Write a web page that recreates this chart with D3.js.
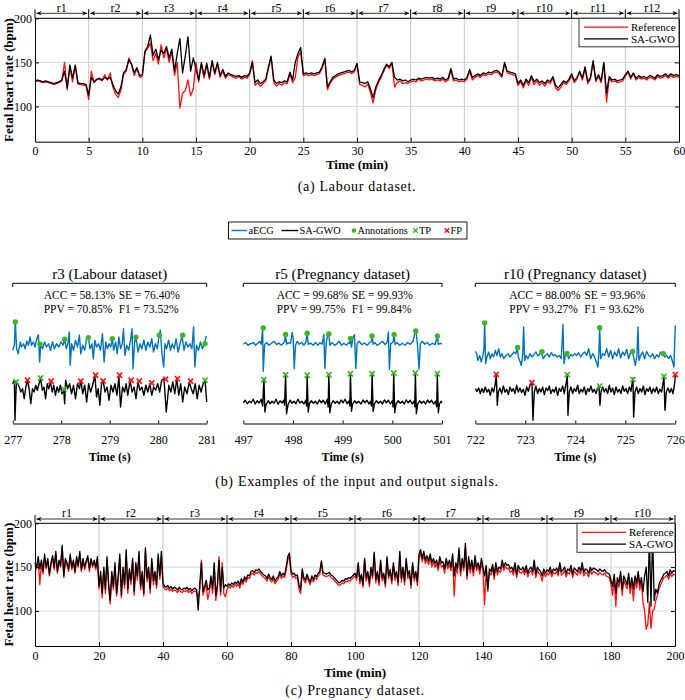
<!DOCTYPE html>
<html><head><meta charset="utf-8">
<script src="https://cdn.jsdelivr.net/npm/d3@7"></script>
<style>body{margin:0;background:#fff}</style>
</head><body>
<script>
// ===================== DATA =====================
// (a) Labour dataset: fetal heart rate (bpm), sampled every 0.25 min, 0..60 min
const labourStep = 0.25;
const labourRef = [
128,129,128,127,128,127,126,125,126,127,129,150,119,145,128,146,125,125,124,124,
108,140,127,130,131,129,136,130,138,122,114,110,118,136,140,155,147,135,143,133,
134,162,166,172,152,160,148,170,155,165,150,162,135,150,98,115,118,130,112,120,
150,128,148,132,147,131,150,136,148,133,140,132,136,135,133,132,134,131,133,132,
136,152,124,127,123,126,129,143,155,127,123,126,124,127,126,137,127,133,156,162,
135,136,135,136,135,136,137,143,155,119,126,131,133,135,136,137,138,139,137,139,
148,125,124,122,125,116,104,119,127,133,140,147,143,149,122,127,129,126,127,126,
128,129,128,131,129,130,131,130,131,129,130,129,131,128,130,141,129,130,128,129,
128,131,140,130,133,135,133,136,135,137,136,138,139,137,133,148,138,137,136,135,
124,128,121,129,124,133,125,129,124,127,123,128,126,132,121,118,122,127,125,129,
135,127,131,139,130,143,126,131,150,128,134,127,148,105,132,128,129,127,128,129,
134,139,131,137,130,133,131,132,130,133,132,130,134,132,133,135,132,135,133,134,133];
const labourSAGWO = [
129,130,129,128,129,128,127,126,127,128,130,140,121,147,132,147,127,126,126,125,
113,133,128,131,132,130,133,131,133,125,118,114,122,138,142,153,148,138,144,135,
136,163,168,181,158,165,153,164,160,168,155,165,140,160,177,138,157,179,140,155,
142,130,150,135,149,133,152,138,150,135,142,134,138,136,135,134,135,133,135,134,
138,150,127,130,126,128,131,145,157,130,126,128,127,129,128,139,130,150,160,167,
137,138,137,138,137,138,139,145,154,122,128,133,135,137,138,139,140,141,139,141,
149,128,127,126,128,120,110,122,129,135,142,148,145,150,133,130,131,129,130,128,
130,131,130,132,131,132,133,132,133,131,132,131,133,130,132,143,131,132,130,131,
130,133,142,133,135,137,135,138,137,139,138,140,141,139,135,150,140,139,138,137,
126,130,124,131,127,135,128,131,127,129,126,130,128,134,124,121,125,129,127,131,
137,129,133,140,132,145,128,133,152,130,136,129,150,115,134,130,131,129,130,131,
136,140,133,138,132,135,133,134,132,135,134,132,136,134,135,137,134,137,135,136,135];
const labourXTicks = [0,5,10,15,20,25,30,35,40,45,50,55,60];
const labourRegions = ["r1","r2","r3","r4","r5","r6","r7","r8","r9","r10","r11","r12"];

// (c) Pregnancy dataset: fetal heart rate (bpm), sampled every 0.5 min, 0..200 min
const pregStep = 0.5;
const pregRef = [
152,148,158,130,155,142,160,148,157,140,152,160,147,165,143,155,150,172,138,157,152,145,162,147,155,143,158,150,165,145,157,147,155,160,145,157,150,155,147,158,
125,140,115,146,120,158,128,108,140,124,150,117,136,160,115,147,126,165,120,145,130,157,118,150,135,163,124,141,117,168,133,146,120,155,130,141,126,160,136,163,
128,125,124,126,123,125,122,124,123,121,124,122,121,123,122,124,121,123,120,122,123,121,115,125,158,118,124,130,113,122,137,120,152,112,125,162,118,155,120,116,
124,128,126,129,127,130,128,131,126,134,130,136,133,138,137,142,143,141,144,143,145,142,140,138,137,134,139,135,133,137,131,134,136,142,137,140,138,147,158,163,
143,138,140,137,138,124,120,145,135,132,139,134,130,137,133,138,136,140,142,155,141,140,139,140,141,138,137,135,133,131,129,130,132,131,134,133,135,134,136,138,
140,135,152,131,139,127,157,134,142,128,147,137,165,132,142,129,155,134,140,127,159,137,144,131,152,135,142,129,165,133,147,130,157,137,143,126,152,134,142,129,
160,166,156,164,154,159,153,161,150,156,150,154,146,158,150,152,143,156,148,153,146,160,117,150,143,168,140,156,146,172,136,158,143,154,140,158,146,151,142,155,
146,107,148,122,144,141,149,136,151,141,146,144,154,146,151,148,149,144,146,141,151,138,148,144,143,146,141,148,139,144,146,141,154,138,146,143,141,134,144,139,
143,141,146,139,144,142,145,140,151,141,143,146,139,144,142,148,138,145,143,141,146,142,151,140,144,143,139,146,142,145,144,143,141,144,142,141,143,140,139,138,
130,118,138,105,133,127,140,118,135,130,125,138,120,133,112,135,126,140,124,133,110,100,79,85,110,80,100,102,112,118,125,130,134,138,139,141,136,143,139,142,141];
const pregSAGWO = [
155,150,162,148,158,145,165,150,160,142,155,163,150,168,145,158,152,175,140,160,155,148,165,150,158,145,162,152,168,147,160,150,157,163,148,160,152,158,150,162,
128,145,120,150,125,162,132,112,145,128,155,120,140,165,118,150,130,170,125,148,135,160,122,155,140,168,128,145,120,172,138,150,125,160,135,145,130,165,140,168,
132,128,127,129,126,128,125,127,126,124,127,125,124,126,125,127,124,126,123,125,126,124,101,130,155,122,128,135,124,126,140,125,155,118,130,158,122,150,126,130,
128,131,129,132,130,133,131,134,130,137,133,139,136,141,140,145,146,144,147,146,148,145,143,141,140,137,142,138,136,140,134,137,139,145,140,143,141,150,162,166,
146,142,143,140,141,130,124,148,138,135,142,137,133,140,136,141,139,143,145,157,144,143,142,143,144,141,140,138,136,134,132,133,135,134,137,136,138,137,139,141,
143,138,155,135,142,130,160,138,145,132,150,140,167,136,145,133,158,138,143,131,162,140,147,135,155,139,145,133,168,137,150,134,160,141,146,130,155,138,145,133,
165,170,160,168,158,163,157,165,155,160,154,158,150,162,155,156,148,160,152,158,150,165,140,155,148,172,145,160,150,177,140,162,148,158,145,163,150,155,147,160,
150,140,152,125,148,145,153,140,155,145,150,148,158,150,155,152,153,148,150,145,155,142,152,148,147,150,145,152,143,148,150,145,158,142,150,147,145,140,148,143,
147,145,150,143,148,146,149,144,155,145,147,150,143,148,146,152,142,149,147,145,150,146,155,144,148,147,143,150,146,149,148,147,145,148,146,145,147,144,143,142,
135,128,142,120,138,132,145,125,140,135,130,143,127,138,125,140,132,145,130,138,122,140,150,110,185,105,188,112,125,120,130,135,138,142,143,145,140,147,143,146,145];
const pregXTicks = [0,20,40,60,80,100,120,140,160,180,200];
const pregRegions = ["r1","r2","r3","r4","r5","r6","r7","r8","r9","r10"];
const fhrYTicks = [100,150,200];

// (b) ECG examples: [time since window start (s), amplitude (a.u.)]
const r3Ticks = [277,278,279,280,281];
const r3Stats = ["ACC = 58.13%","SE = 76.40%","PPV = 70.85%","F1 = 73.52%"];
const r3Blue = [[0,-0.13],[0.034,0.07],[0.054,1.0],[0.081,-0.07],[0.115,-0.27],[0.156,0.2],[0.183,0],[0.224,0.13],[0.258,-0.07],[0.292,0.23],[0.325,0.07],[0.359,0.4],[0.386,0.07],[0.427,0.2],[0.461,0],[0.495,0.33],[0.529,0.49],[0.556,-0.6],[0.576,0.07],[0.617,-0.07],[0.658,0.2],[0.698,0],[0.739,0.13],[0.78,-0.13],[0.82,0.2],[0.861,-0.07],[0.902,0.13],[0.949,0],[0.997,0.2],[1.037,0.07],[1.071,0.31],[1.105,-0.07],[1.139,0.13],[1.166,0.6],[1.186,-0.73],[1.214,0.13],[1.254,-0.13],[1.295,0.27],[1.336,0],[1.376,0.47],[1.403,-0.27],[1.444,0.07],[1.485,-0.13],[1.525,0.33],[1.559,0.39],[1.593,-0.07],[1.634,0.13],[1.661,-0.47],[1.695,0.27],[1.729,0],[1.769,0.13],[1.81,-0.13],[1.851,0.53],[1.885,-0.6],[1.919,0.2],[1.953,-0.07],[1.986,0.13],[2.02,0],[2.054,0.33],[2.081,-0.13],[2.122,0.2],[2.156,-0.27],[2.19,0.4],[2.224,-0.07],[2.258,0.13],[2.285,0.73],[2.312,-0.33],[2.353,0.07],[2.393,-0.13],[2.434,0.33],[2.461,0.73],[2.481,-0.87],[2.515,0.2],[2.542,0.4],[2.583,-0.2],[2.624,0.13],[2.664,-0.07],[2.705,0.27],[2.746,-0.13],[2.786,0.2],[2.827,0],[2.868,0.33],[2.902,-0.2],[2.942,0.13],[2.983,-0.07],[3.017,0.47],[3.044,0.67],[3.078,-0.27],[3.112,-0.8],[3.139,0.13],[3.173,-0.07],[3.214,0.27],[3.254,-0.13],[3.288,0.13],[3.329,-0.07],[3.369,0.33],[3.41,-0.2],[3.451,0.13],[3.492,0.44],[3.532,-0.13],[3.573,0.2],[3.614,0],[3.654,0.13],[3.695,-0.07],[3.729,0.8],[3.756,-0.8],[3.79,0.07],[3.831,-0.13],[3.871,0.2],[3.912,-0.07],[3.953,0.13],[3.993,0.44]];
const r3Black = [[0,0.13],[0.034,0.27],[0.047,-1.33],[0.075,0.2],[0.102,0.13],[0.136,0],[0.17,-0.2],[0.203,-0.07],[0.237,-0.47],[0.271,0],[0.305,0.27],[0.339,-0.07],[0.373,-0.67],[0.407,-0.07],[0.441,-0.2],[0.475,0.07],[0.508,-0.13],[0.542,0.13],[0.576,0.33],[0.61,-0.13],[0.644,0],[0.678,-0.47],[0.712,0.13],[0.746,-0.07],[0.78,0.2],[0.814,-0.2],[0.847,0.07],[0.881,-0.33],[0.915,0],[0.949,-0.2],[0.983,0.07],[1.017,-0.27],[1.051,-0.09],[1.071,-0.67],[1.092,0.27],[1.132,-0.07],[1.173,0.13],[1.214,-0.27],[1.254,0.07],[1.295,-0.47],[1.336,0.13],[1.376,-0.07],[1.403,0.27],[1.444,-0.27],[1.485,0.07],[1.525,-0.6],[1.566,0.13],[1.607,-0.2],[1.647,0.07],[1.695,0.44],[1.729,-0.4],[1.763,-0.07],[1.797,-0.73],[1.831,0.13],[1.864,0.23],[1.905,-0.2],[1.946,0],[1.986,-0.53],[2.027,0.07],[2.068,-0.2],[2.108,0.13],[2.149,-0.33],[2.19,0.4],[2.224,-0.8],[2.264,0],[2.305,-0.2],[2.339,0.13],[2.373,-0.33],[2.42,0.27],[2.461,-0.2],[2.502,0],[2.542,-0.47],[2.583,0.2],[2.624,-0.13],[2.664,0],[2.705,-0.33],[2.746,0.07],[2.786,-0.2],[2.827,0.13],[2.868,-0.33],[2.908,0],[2.949,-0.13],[2.99,0.13],[3.031,-0.2],[3.071,0.27],[3.119,0.33],[3.166,-1],[3.22,0.07],[3.261,-0.2],[3.302,0.2],[3.342,-0.27],[3.383,0.33],[3.424,-0.33],[3.464,0.13],[3.505,-0.6],[3.546,0],[3.593,-0.27],[3.641,0.2],[3.681,-0.07],[3.722,-0.27],[3.763,0.13],[3.804,-0.47],[3.844,0.07],[3.885,-0.2],[3.926,0.13],[3.966,0.27],[4,-0.6]];
const r3Annot = [[0.054,1.0],[0.563,0.11],[1.071,0.31],[1.559,0.37],[2.054,0.33],[2.542,0.39],[3.024,0.47],[3.505,0.47],[3.966,0.13]];
const r3TP = [[0.068,0.2],[0.576,0.36],[1.058,-0.09],[3.966,0.27]];
const r3FP = [[0.305,0.27],[0.793,0.23],[1.403,0.23],[1.709,0.47],[1.864,0.24],[2.204,0.47],[2.441,0.27],[2.61,0.23],[2.868,0.16],[3.153,0.31],[3.397,0.33],[3.668,0.23]];

const r5Ticks = [497,498,499,500,501];
const r5Stats = ["ACC = 99.68%","SE = 99.93%","PPV = 99.75%","F1 = 99.84%"];
const r5Blue = [[0,0],[0.047,0.07],[0.094,-0.04],[0.147,0.03],[0.201,0.07],[0.248,-0.04],[0.295,0.05],[0.335,0.12],[0.362,0],[0.389,0.65],[0.402,-1.08],[0.429,-0.01],[0.469,0.07],[0.516,-0.04],[0.563,0.03],[0.616,0.12],[0.67,-0.01],[0.717,0.05],[0.764,-0.04],[0.804,0.03],[0.831,0.12],[0.851,0.39],[0.871,0],[0.905,0.07],[0.951,0.03],[0.985,0.47],[1.005,0.23],[1.025,-0.97],[1.052,-0.04],[1.085,0.12],[1.126,0],[1.173,0.07],[1.219,-0.04],[1.26,0.09],[1.286,0.44],[1.307,0],[1.353,0.05],[1.407,-0.04],[1.454,0.07],[1.501,-0.04],[1.541,0.07],[1.588,0.01],[1.621,0.39],[1.642,-0.97],[1.668,0.03],[1.695,0.36],[1.722,0.41],[1.742,-0.04],[1.782,0.07],[1.836,-0.04],[1.889,0.03],[1.93,0.12],[1.977,-0.04],[2.023,0.04],[2.077,-0.04],[2.117,0.07],[2.144,0.03],[2.157,0.23],[2.178,-0.11],[2.211,0.29],[2.238,0.39],[2.265,-0.97],[2.291,0.03],[2.332,0.12],[2.385,-0.01],[2.439,0.05],[2.492,-0.04],[2.546,0.07],[2.58,0.12],[2.593,0.33],[2.613,0],[2.653,0.07],[2.693,-0.04],[2.747,0.03],[2.801,0.12],[2.854,-0.01],[2.894,0.07],[2.921,0.49],[2.941,-1],[2.968,0.03],[3.015,0.09],[3.035,0.39],[3.055,-0.01],[3.095,0.07],[3.149,-0.04],[3.203,0.04],[3.256,-0.04],[3.31,0.07],[3.363,0],[3.417,0.12],[3.457,0.49],[3.477,0.53],[3.504,0.03],[3.538,-1],[3.564,0.03],[3.605,0.12],[3.652,0],[3.698,0.07],[3.752,-0.04],[3.806,0.04],[3.859,-0.01],[3.886,0.16],[3.906,0.33],[3.926,0],[3.966,0.04],[4,0.01]];
const r5BlackT = [0,0.04,0.08,0.12,0.16,0.2,0.24,0.28,0.32,0.36,0.39,0.415,0.435,0.455,0.5,0.54,0.58,0.62,0.66,0.7,0.74,0.78,0.82,0.83,0.851,0.871,0.9,0.94,0.98,1.02,1.06,1.1,1.14,1.18,1.22,1.26,1.273,1.286,1.307,1.33,1.37,1.41,1.45,1.49,1.53,1.57,1.61,1.65,1.69,1.708,1.722,1.742,1.77,1.81,1.85,1.89,1.93,1.97,2.01,2.05,2.09,2.13,2.144,2.157,2.178,2.2,2.24,2.28,2.32,2.37,2.41,2.45,2.49,2.53,2.56,2.58,2.593,2.613,2.64,2.68,2.72,2.76,2.8,2.84,2.88,2.92,2.96,3,3.015,3.028,3.049,3.075,3.12,3.16,3.2,3.24,3.28,3.32,3.36,3.4,3.44,3.451,3.464,3.484,3.51,3.55,3.59,3.63,3.67,3.71,3.75,3.79,3.83,3.87,3.893,3.906,3.926,3.95,3.98,4.0];
const r5BlackV = [-0.03,0.07,-0.07,0.03,-0.03,0.11,-0.08,0.05,-0.04,0.11,-0.16,0.93,-0.4,-0.13,0.05,-0.07,0.03,-0.05,0.11,-0.09,0.05,-0.04,0.08,-0.13,1.07,-0.47,-0.11,0.07,-0.05,0.03,-0.07,0.11,-0.04,0.03,-0.08,0.08,-0.16,1.04,-0.4,-0.07,0.05,-0.05,0.03,-0.08,0.08,-0.03,0.07,-0.08,0.11,-0.2,1.07,-0.43,-0.08,0.05,-0.05,0.03,-0.07,0.08,-0.03,0.11,-0.07,0.05,-0.16,1.09,-0.37,-0.08,0.05,-0.05,0.03,-0.08,0.08,-0.03,0.07,-0.08,0.03,-0.16,1.09,-0.37,-0.08,0.05,-0.05,0.03,-0.08,0.08,-0.03,0.07,-0.08,0.05,-0.2,1.12,-0.43,-0.08,0.05,-0.05,0.03,-0.08,0.08,-0.03,0.07,-0.08,0.05,-0.19,1.12,-0.47,-0.08,0.05,-0.05,0.03,-0.08,0.08,-0.03,0.07,-0.08,0.03,-0.19,1.09,-0.43,-0.08,0.03,-0.03];
const r5Annot = [[0.402,0.65],[0.851,0.39],[1.286,0.44],[1.722,0.41],[2.157,0.23],[2.593,0.33],[3.035,0.39],[3.471,0.53],[3.906,0.33]];
const r5TP = [[0.415,0.89],[0.851,1.09],[1.286,1.07],[1.722,1.09],[2.157,1.13],[2.593,1.13],[3.028,1.16],[3.464,1.16],[3.906,1.13]];
const r5FP = [];

const r10Ticks = [722,723,724,725,726];
const r10Stats = ["ACC = 88.00%","SE = 93.96%","PPV = 93.27%","F1 = 93.62%"];
const r10Blue = [[0,0.13],[0.027,0.04],[0.053,-0.23],[0.087,-0.03],[0.12,-0.29],[0.153,-0.03],[0.173,0.24],[0.187,1.27],[0.207,-0.36],[0.233,-0.09],[0.267,0.11],[0.3,-0.16],[0.333,0.04],[0.367,-0.09],[0.4,0.17],[0.433,-0.03],[0.467,0.24],[0.5,-0.09],[0.533,0.04],[0.573,-0.16],[0.613,-0.03],[0.653,0.04],[0.693,-0.09],[0.733,0],[0.773,0.11],[0.807,0.04],[0.84,0.27],[0.86,-0.09],[0.887,-0.23],[0.92,-0.43],[0.947,-0.03],[0.967,1.11],[0.987,-0.23],[1.02,-0.03],[1.053,-0.16],[1.093,0.04],[1.133,-0.09],[1.173,0],[1.213,0.11],[1.253,-0.05],[1.293,0.04],[1.32,0.13],[1.36,-0.16],[1.4,-0.03],[1.44,0.04],[1.48,-0.09],[1.52,0.08],[1.56,-0.05],[1.6,0],[1.64,-0.09],[1.68,-0.03],[1.72,-0.16],[1.753,1.21],[1.773,-0.36],[1.8,-0.03],[1.827,0.08],[1.867,-0.16],[1.907,0],[1.947,-0.05],[1.987,0.04],[2.027,-0.03],[2.067,0.08],[2.107,-0.09],[2.147,0.04],[2.187,0.11],[2.227,-0.03],[2.267,0.24],[2.307,-0.16],[2.347,0.04],[2.387,-0.09],[2.42,-0.29],[2.453,-0.49],[2.473,0.17],[2.487,1.11],[2.507,-0.16],[2.547,0.04],[2.587,-0.03],[2.627,0.24],[2.667,-0.09],[2.707,0.17],[2.747,-0.16],[2.787,0.11],[2.827,-0.05],[2.867,0.24],[2.907,-0.13],[2.947,0.11],[2.987,-0.03],[3.027,0.21],[3.067,-0.16],[3.107,0.11],[3.133,0.13],[3.16,-0.03],[3.2,-0.43],[3.233,-0.03],[3.253,1.11],[3.273,-0.23],[3.307,-0.03],[3.347,0.11],[3.387,-0.16],[3.427,0.13],[3.467,-0.03],[3.507,-0.09],[3.547,0.04],[3.587,-0.16],[3.627,0],[3.667,-0.09],[3.707,0.11],[3.747,0.04],[3.787,-0.09],[3.827,-0.03],[3.867,-0.16],[3.907,-0.03],[3.947,-0.29],[3.973,-0.49],[4,1.17]];
const r10BlackT = [0,0.033,0.067,0.1,0.133,0.167,0.2,0.233,0.267,0.3,0.333,0.367,0.4,0.42,0.44,0.46,0.493,0.527,0.56,0.593,0.627,0.66,0.693,0.727,0.76,0.793,0.827,0.86,0.893,0.927,0.96,0.993,1.027,1.06,1.093,1.113,1.133,1.153,1.18,1.213,1.247,1.28,1.313,1.347,1.38,1.413,1.447,1.48,1.513,1.547,1.58,1.613,1.647,1.68,1.713,1.747,1.78,1.807,1.827,1.84,1.853,1.88,1.913,1.947,1.98,2.013,2.047,2.08,2.113,2.147,2.18,2.213,2.247,2.28,2.313,2.347,2.38,2.413,2.447,2.473,2.493,2.513,2.547,2.58,2.613,2.647,2.68,2.713,2.747,2.78,2.813,2.847,2.88,2.913,2.947,2.98,3.013,3.047,3.08,3.113,3.14,3.153,3.167,3.193,3.227,3.26,3.293,3.327,3.36,3.393,3.427,3.46,3.493,3.527,3.56,3.593,3.627,3.66,3.693,3.727,3.753,3.773,3.793,3.82,3.853,3.887,3.92,3.953,3.975,3.99,4.0];
const r10BlackV = [0.07,-0.04,0.09,-0.13,0.07,-0.09,0.13,-0.07,0.04,-0.2,0.09,-0.07,0.27,0.63,-0.6,-0.07,0.09,-0.13,0.17,-0.07,0.04,-0.17,0.13,-0.04,0.07,-0.13,0.2,-0.07,0.09,-0.09,0.04,-0.2,0.13,-0.04,0.2,0.27,0.31,-1.2,-0.07,0.17,-0.13,0.07,-0.07,0.13,-0.17,0.09,-0.01,0.17,-0.13,0.04,-0.07,0.13,-0.2,0.07,-0.04,0.17,-0.13,0.2,0.4,0.63,-1.0,-0.07,0.13,-0.13,0.07,-0.04,0.2,-0.13,0.04,-0.07,0.13,-0.17,0.07,-0.04,0.17,-0.07,0.04,-0.13,0.09,0.17,-0.6,-0.07,0.13,-0.07,0.07,-0.13,0.2,-0.07,0.09,-0.17,0.13,-0.07,0.04,-0.13,0.17,-0.04,0.07,-0.13,0.13,-0.04,0.33,0.49,-1.07,-0.07,0.13,-0.13,0.07,-0.07,0.17,-0.17,0.07,-0.04,0.13,-0.13,0.07,-0.07,0.13,-0.13,0.04,-0.07,0.27,0.53,-0.8,-0.07,0.09,-0.09,0.07,-0.13,0.13,0.33,0.6];
const r10Annot = [[0.187,1.27],[0.847,0.29],[1.333,0.12],[1.833,0.05],[2.487,1.08],[3.147,0.13],[3.76,0.04]];
const r10TP = [[1.84,0.63],[2.487,0.17],[3.153,0.43],[3.773,0.56]];
const r10FP = [[0.42,0.64],[1.133,0.31],[4.0,0.63]];

// ===================== DRAWING =====================
const SERIF = '"Liberation Serif","Times New Roman",Times,serif';
const BLUE = '#0072BD', GREEN = '#3cb521', RED = '#ff1010';
const svg = d3.select('body').append('svg').attr('width',685).attr('height',700).style('display','block');
svg.append('rect').attr('width',685).attr('height',700).attr('fill','#fff');

function txt(g,x,y,s,o={}){
  const t = g.append('text').attr('x',x).attr('y',y).attr('dy','0.35em')
    .attr('font-family',o.family||SERIF).attr('font-size',o.size||12)
    .attr('font-weight',o.weight||'normal').attr('text-anchor',o.anchor||'middle')
    .attr('fill',o.fill||'#000').text(s);
  if(o.ls) t.attr('letter-spacing',o.ls);
  if(o.rotate) t.attr('transform',`rotate(${o.rotate},${x},${y})`);
  return t;
}
function styleAxis(a,size){
  a.selectAll('text').attr('font-family',SERIF).attr('font-size',size).attr('fill','#000');
  a.selectAll('line').attr('stroke','#000');
  a.select('.domain').attr('stroke','#000');
}

function fhrPanel(c){
  const g = svg.append('g');
  const x = d3.scaleLinear().domain([c.xTicks[0], c.xTicks[c.xTicks.length-1]]).range([c.left,c.right]);
  const y = d3.scaleLinear().domain([60,200]).range([c.bottom,c.top]);
  g.selectAll(null).data(c.xTicks.slice(1,-1)).join('line')
    .attr('x1',d=>x(d)).attr('x2',d=>x(d)).attr('y1',c.top).attr('y2',c.bottom)
    .attr('stroke','#c8c8c8').attr('stroke-width',1);
  g.selectAll(null).data(fhrYTicks.slice(0,-1)).join('line')
    .attr('x1',c.left).attr('x2',c.right).attr('y1',d=>y(d)).attr('y2',d=>y(d))
    .attr('stroke','#d8d8d8').attr('stroke-width',1);
  const line = d3.line().x((d,i)=>x(i*c.step)).y(d=>y(d));
  g.append('path').datum(c.ref).attr('d',line).attr('fill','none').attr('stroke',RED).attr('stroke-width',1.3).attr('stroke-linejoin','round');
  g.append('path').datum(c.sa).attr('d',line).attr('fill','none').attr('stroke','#000').attr('stroke-width',1.3).attr('stroke-linejoin','round');
  const ab = g.append('g').attr('transform',`translate(0,${c.bottom})`)
    .call(d3.axisBottom(x).tickValues(c.xTicks).tickSize(-4).tickSizeOuter(0).tickPadding(5));
  styleAxis(ab,12);
  const al = g.append('g').attr('transform',`translate(${c.left},0)`)
    .call(d3.axisLeft(y).tickValues(fhrYTicks).tickSize(-4).tickSizeOuter(0).tickPadding(3));
  styleAxis(al,12);
  const ar = g.append('g').attr('transform',`translate(${c.right},0)`)
    .call(d3.axisRight(y).tickValues(fhrYTicks).tickSize(-4).tickSizeOuter(0).tickFormat(''));
  styleAxis(ar,12);
  g.append('line').attr('x1',c.left).attr('x2',c.right).attr('y1',c.top).attr('y2',c.top).attr('stroke','#000');
  const rb = c.xTicks;
  g.selectAll(null).data(rb).join('line')
    .attr('x1',d=>x(d)).attr('x2',d=>x(d)).attr('y1',c.arrowY-4).attr('y2',c.top)
    .attr('stroke','#000').attr('stroke-width',1);
  c.regions.forEach((lab,i)=>{
    const x0 = x(rb[i])+1.5, x1 = x(rb[i+1])-1.5, yy = c.arrowY;
    g.append('line').attr('x1',x0).attr('x2',x1).attr('y1',yy).attr('y2',yy).attr('stroke','#000').attr('stroke-width',0.8);
    g.append('path').attr('d',`M${x0},${yy}L${x0+5},${yy-2.2}L${x0+3.5},${yy}L${x0+5},${yy+2.2}Z`).attr('fill','#000');
    g.append('path').attr('d',`M${x1},${yy}L${x1-5},${yy-2.2}L${x1-3.5},${yy}L${x1-5},${yy+2.2}Z`).attr('fill','#000');
    txt(g,(x(rb[i])+x(rb[i+1]))/2,c.labelY,lab,{size:12});
  });
  txt(g,8,(c.top+c.bottom)/2,'Fetal heart rate (bpm)',{size:13,weight:'bold',rotate:-90});
  txt(g,(c.left+c.right)/2,c.xLabelY,c.xLabel,{size:13,weight:'bold'});
  txt(g,(c.left+c.right)/2,c.captionY,c.caption,{size:14,ls:0.7});
  const L = c.legend;
  g.append('rect').attr('x',L.x).attr('y',L.y).attr('width',L.w).attr('height',L.h).attr('fill','#fff').attr('stroke','#333').attr('stroke-width',1);
  [['Reference',RED],['SA-GWO','#000']].forEach((it,i)=>{
    const yy = L.y + L.h*(i===0?0.31:0.72);
    g.append('line').attr('x1',L.x+5).attr('x2',L.x+49).attr('y1',yy).attr('y2',yy).attr('stroke',it[1]).attr('stroke-width',1.3);
    txt(g,L.x+52,yy,it[0],{size:11,anchor:'start'});
  });
}

fhrPanel({ref:labourRef, sa:labourSAGWO, step:labourStep, xTicks:labourXTicks, regions:labourRegions,
  left:35, right:679, top:18.3, bottom:141.7, arrowY:13.3, labelY:7.3, xLabelY:164.5, xLabel:'Time (min)',
  captionY:186, caption:'(a) Labour dataset.', legend:{x:579,y:18.3,w:100,h:28.5}});
fhrPanel({ref:pregRef, sa:pregSAGWO, step:pregStep, xTicks:pregXTicks, regions:pregRegions,
  left:35, right:675, top:523.3, bottom:646, arrowY:519, labelY:513, xLabelY:672, xLabel:'Time (min)',
  captionY:690, caption:'(c) Pregnancy dataset.', legend:{x:577,y:523.3,w:98,h:29}});

function ecgPanel(c){
  const g = svg.append('g');
  const x = d3.scaleLinear().domain([0,4]).range([c.x0,c.x1]);
  const yB = d3.scaleLinear().domain([-1,1]).range([c.blueBase+25,c.blueBase-25]);
  const yK = d3.scaleLinear().domain([-1,1]).range([c.blackBase+25,c.blackBase-25]);
  const cx = (c.x0+c.x1)/2;
  txt(g,cx,274,c.title,{size:15});
  g.append('path').attr('d',`M${c.x0},287L${c.x0},283.3L${c.x1},283.3L${c.x1},287`).attr('fill','none').attr('stroke','#000').attr('stroke-width',1);
  txt(g,cx-66,294.5,c.stats[0],{size:11.5,anchor:'start'});
  txt(g,cx+9,294.5,c.stats[1],{size:11.5,anchor:'start'});
  txt(g,cx-66,308.5,c.stats[2],{size:11.5,anchor:'start'});
  txt(g,cx+9,308.5,c.stats[3],{size:11.5,anchor:'start'});
  g.append('path').datum(c.blue).attr('d',d3.line().x(d=>x(d[0])).y(d=>yB(d[1])))
    .attr('fill','none').attr('stroke',BLUE).attr('stroke-width',1.4).attr('stroke-linejoin','round');
  g.append('path').datum(c.black).attr('d',d3.line().x(d=>x(d[0])).y(d=>yK(d[1])))
    .attr('fill','none').attr('stroke','#000').attr('stroke-width',1.4).attr('stroke-linejoin','round');
  g.selectAll(null).data(c.annot).join('circle').attr('cx',d=>x(d[0])).attr('cy',d=>yB(d[1])).attr('r',2.7).attr('fill',GREEN);
  const cross = (sel,col)=>sel.join('path')
    .attr('d',d=>{const px=x(d[0]),py=yK(d[1]),s=2.6;return `M${px-s},${py-s}L${px+s},${py+s}M${px-s},${py+s}L${px+s},${py-s}`;})
    .attr('stroke',col).attr('stroke-width',1.6);
  cross(g.selectAll(null).data(c.tp),GREEN);
  cross(g.selectAll(null).data(c.fp),RED);
  const ax = g.append('g').attr('transform','translate(0,423.5)')
    .call(d3.axisBottom(x).tickValues([0,1,2,3,4]).tickFormat((d,i)=>c.ticks[i]).tickSize(-3).tickSizeOuter(0).tickPadding(11.5));
  styleAxis(ax,12);
  txt(g,cx,457,'Time (s)',{size:12,weight:'bold'});
}
ecgPanel({x0:12.7,x1:206.7,blueBase:347,blackBase:387,title:'r3 (Labour dataset)',stats:r3Stats,ticks:r3Ticks,
  blue:r3Blue,black:r3Black,annot:r3Annot,tp:r3TP,fp:r3FP});
ecgPanel({x0:243.3,x1:442,blueBase:344.3,blackBase:402,title:'r5 (Pregnancy dataset)',stats:r5Stats,ticks:r5Ticks,
  blue:r5Blue,black:d3.zip(r5BlackT,r5BlackV),annot:r5Annot,tp:r5TP,fp:r5FP});
ecgPanel({x0:475.3,x1:675.3,blueBase:354.7,blackBase:390.3,title:'r10 (Pregnancy dataset)',stats:r10Stats,ticks:r10Ticks,
  blue:r10Blue,black:d3.zip(r10BlackT,r10BlackV),annot:r10Annot,tp:r10TP,fp:r10FP});

// middle legend
(function(){
  const g = svg.append('g'), yy = 230.5, fs = 10.3;
  g.append('rect').attr('x',228.5).attr('y',222).attr('width',238.5).attr('height',17).attr('fill','#fff').attr('stroke','#000').attr('stroke-width',0.9);
  g.append('line').attr('x1',231.5).attr('x2',247).attr('y1',yy).attr('y2',yy).attr('stroke',BLUE).attr('stroke-width',1.4);
  txt(g,248.5,yy,'aECG',{size:fs,anchor:'start'});
  g.append('line').attr('x1',281.5).attr('x2',298).attr('y1',yy).attr('y2',yy).attr('stroke','#000').attr('stroke-width',1.4);
  txt(g,299.5,yy,'SA-GWO',{size:fs,anchor:'start'});
  g.append('circle').attr('cx',354).attr('cy',yy).attr('r',2.3).attr('fill',GREEN);
  txt(g,357.5,yy,'Annotations',{size:fs,anchor:'start'});
  const xm=(px,col)=>g.append('path').attr('d',`M${px-2.3},${yy-2.3}L${px+2.3},${yy+2.3}M${px-2.3},${yy+2.3}L${px+2.3},${yy-2.3}`).attr('stroke',col).attr('stroke-width',1.5);
  xm(415.5,GREEN); txt(g,419,yy,'TP',{size:fs,anchor:'start'});
  xm(447,RED); txt(g,450.5,yy,'FP',{size:fs,anchor:'start'});
  txt(svg,357,481,'(b) Examples of the input and output signals.',{size:14,ls:0.7});
})();
</script>
</body></html>
